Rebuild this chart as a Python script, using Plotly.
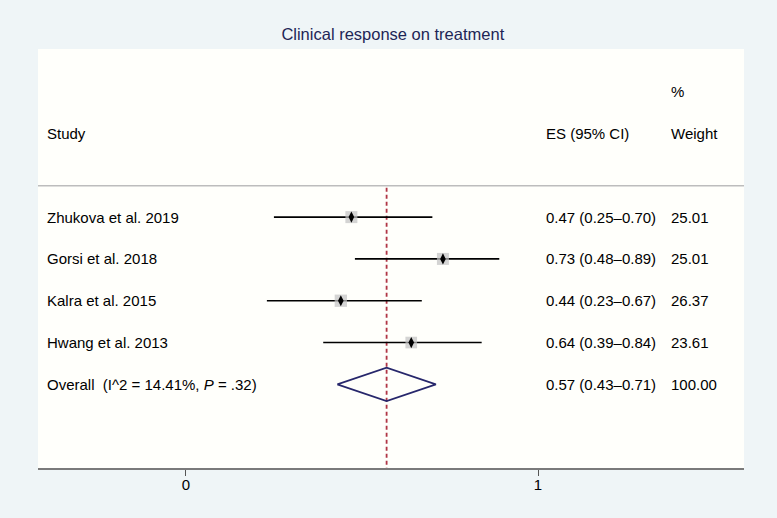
import plotly.graph_objects as go

studies = ["Zhukova et al. 2019", "Gorsi et al. 2018", "Kalra et al. 2015", "Hwang et al. 2013"]
es = [0.47, 0.73, 0.44, 0.64]
lo = [0.25, 0.48, 0.23, 0.39]
hi = [0.70, 0.89, 0.67, 0.84]
weights = [25.01, 25.01, 26.37, 23.61]
overall_label = "Overall  (I^2 = 14.41%, <i>P</i> = .32)"
overall_es, overall_lo, overall_hi, overall_w = 0.57, 0.43, 0.71, 100.00
x_ticks = [0, 1]

FONT = "Liberation Sans, Arial, Helvetica, sans-serif"
rows = list(range(1, len(studies) + 1))
overall_row = len(studies) + 1

fig = go.Figure()

# dashed overall line
fig.add_trace(go.Scatter(x=[overall_es, overall_es], y=[0.3, 7.0], mode="lines",
                         line=dict(color="#b03545", width=1.8, dash="4px,3px"),
                         hoverinfo="skip", showlegend=False))

# CI lines
for r, l, h in zip(rows, lo, hi):
    fig.add_trace(go.Scatter(x=[l, h], y=[r, r], mode="lines",
                             line=dict(color="black", width=1.6),
                             hoverinfo="skip", showlegend=False))

# weight boxes
fig.add_trace(go.Scatter(x=es, y=rows, mode="markers",
                         marker=dict(symbol="square", color="#c2c2c2",
                                     size=[12 * (w / 25.0) ** 0.5 for w in weights],
                                     line=dict(width=0)),
                         hoverinfo="skip", showlegend=False))
fig.add_trace(go.Scatter(x=es, y=rows, mode="markers",
                         marker=dict(symbol="diamond-tall", color="black", size=8),
                         hoverinfo="skip", showlegend=False))

# overall diamond
fig.add_trace(go.Scatter(x=[overall_lo, overall_es, overall_hi, overall_es, overall_lo],
                         y=[overall_row, overall_row - 0.4, overall_row, overall_row + 0.4, overall_row],
                         mode="lines", line=dict(color="#27276b", width=1.6),
                         hoverinfo="skip", showlegend=False))

# separator
fig.add_shape(type="line", xref="paper", yref="y", x0=0, x1=1, y0=0.25, y1=0.25,
              line=dict(color="#bdbdbd", width=1.5))

tfont = dict(family=FONT, size=15, color="black")
labels = studies + [overall_label]
es_txt = [f"{e:.2f} ({a:.2f}\u2013{b:.2f})" for e, a, b in zip(es, lo, hi)] + \
         [f"{overall_es:.2f} ({overall_lo:.2f}\u2013{overall_hi:.2f})"]
w_txt = [f"{w:.2f}" for w in weights] + [f"{overall_w:.2f}"]
all_rows = rows + [overall_row]

XS, XE, XW = -0.401, 1.016, 1.373
for r, s, e, w in zip(all_rows, labels, es_txt, w_txt):
    fig.add_annotation(x=XS, y=r, text=s, showarrow=False, xanchor="left", font=tfont)
    fig.add_annotation(x=XE, y=r, text=e, showarrow=False, xanchor="left", font=tfont)
    fig.add_annotation(x=XW, y=r, text=w, showarrow=False, xanchor="left", font=tfont)

fig.add_annotation(x=XS, y=-1, text="Study", showarrow=False, xanchor="left", font=tfont)
fig.add_annotation(x=XE, y=-1, text="ES (95% CI)", showarrow=False, xanchor="left", font=tfont)
fig.add_annotation(x=XW, y=-1, text="Weight", showarrow=False, xanchor="left", font=tfont)
fig.add_annotation(x=XW, y=-2, text="%", showarrow=False, xanchor="left", font=tfont)

fig.update_layout(
    width=777, height=518,
    margin=dict(l=38, r=33, t=49, b=50),
    paper_bgcolor="#eff5f7",
    plot_bgcolor="#fffffb",
    title=dict(text="Clinical response on treatment", x=390.5 / 777, xref="paper", xanchor="center",
               y=1 - 34.5 / 518, yanchor="middle",
               font=dict(family=FONT, size=16.5, color="#1e2556")),
    xaxis=dict(range=[-0.42, 1.585], tickvals=x_ticks, ticktext=[str(t) for t in x_ticks],
               showgrid=False, zeroline=False, showline=True, linecolor="#7a7a7a", linewidth=1.5,
               ticks="outside", ticklen=6, tickcolor="#555555", tickwidth=1,
               ticklabelstandoff=-4,
               tickfont=dict(family=FONT, size=15, color="black"), fixedrange=True),
    yaxis=dict(range=[7.0, -3.02], showgrid=False, zeroline=False, showline=False,
               showticklabels=False, ticks="", fixedrange=True),
)

fig.write_html("out.html", config={"displayModeBar": False},
               post_script="document.body.style.margin='0';document.body.style.overflow='hidden';")
